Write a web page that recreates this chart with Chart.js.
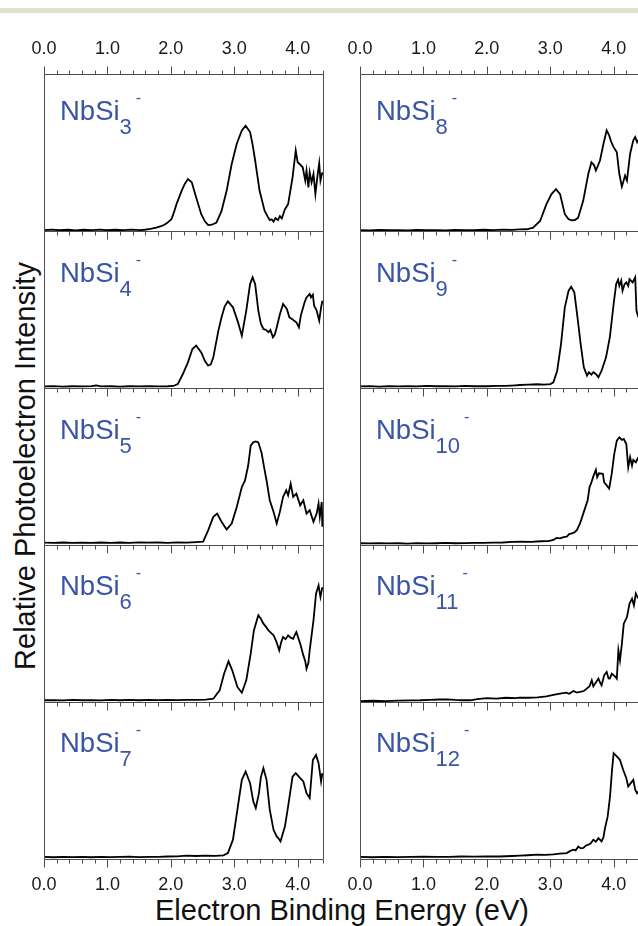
<!DOCTYPE html>
<html>
<head>
<meta charset="utf-8">
<script src="https://cdn.jsdelivr.net/npm/chart.js@4.4.0/dist/chart.umd.min.js"></script>
<style>
html, body { margin:0; padding:0; background:#fff; overflow:hidden; }
#page { position:relative; width:638px; height:926px; overflow:hidden; font-family:'Liberation Sans', Arial, sans-serif; }
#band { position:absolute; left:0; top:8px; width:638px; height:5px; background:#e2e0d0; }
canvas { position:absolute; }
.lbl { position:absolute; font-size:27.5px; line-height:1; color:#3a55a6; white-space:nowrap; }
.lbl .sb { font-size:22px; position:relative; top:14px; }
.lbl .sp { font-size:16px; position:relative; top:-17px; margin-left:4px; }
#xtitle { position:absolute; left:0; top:895.5px; width:684px; text-align:center; font-size:29px; line-height:1; color:#111; white-space:nowrap; }
#ytitle { position:absolute; left:-275px; top:452px; width:600px; text-align:center; font-size:29px; line-height:28px; color:#111; white-space:nowrap; transform:rotate(-90deg); }
</style>
</head>
<body>
<div id="page">
  <div id="band"></div>
  <div id="ytitle">Relative Photoelectron Intensity</div>
  <div id="xtitle">Electron Binding Energy (eV)</div>
</div>
<script>
// energies (eV) and relative intensity
var nbsi3 = [[0.00,0.006],[0.12,0.009],[0.25,0.005],[0.38,0.008],[0.50,0.004],[0.62,0.008],[0.75,0.006],[0.88,0.009],[1.00,0.005],[1.12,0.008],[1.25,0.006],[1.38,0.009],[1.50,0.006],[1.59,0.008],
  [1.68,0.013],[1.77,0.021],[1.86,0.032],[1.93,0.047],[2.01,0.075],[2.05,0.12],[2.09,0.171],[2.17,0.256],[2.22,0.30],[2.27,0.331],[2.33,0.31],[2.40,0.213],[2.48,0.107],[2.54,0.06],[2.59,0.038],[2.65,0.04],[2.72,0.053],[2.80,0.128],[2.88,0.256],[2.96,0.427],[3.04,0.556],[3.12,0.641],[3.18,0.671],[3.25,0.63],[3.29,0.55],[3.33,0.449],[3.40,0.256],[3.48,0.128],[3.53,0.09],[3.56,0.07],[3.59,0.075],[3.62,0.06],[3.65,0.082],[3.69,0.07],[3.72,0.095],[3.75,0.08],[3.80,0.139],[3.85,0.171],[3.92,0.342],[3.97,0.513],[4.00,0.438],[4.03,0.427],[4.08,0.406],[4.12,0.321],[4.14,0.385],[4.17,0.278],[4.19,0.374],[4.22,0.31],[4.25,0.363],[4.28,0.235],[4.31,0.342],[4.34,0.432],[4.36,0.321],[4.39,0.374]];
var nbsi4 = [[0.00,0.01],[0.15,0.012],[0.30,0.009],[0.45,0.011],[0.60,0.01],[0.75,0.012],[0.82,0.016],[0.90,0.01],[1.05,0.011],[1.20,0.009],[1.35,0.011],[1.50,0.01],[1.65,0.012],[1.80,0.01],[1.95,0.011],[2.04,0.013],[2.11,0.025],[2.19,0.089],[2.27,0.163],[2.34,0.248],[2.40,0.27],[2.48,0.227],[2.54,0.17],[2.59,0.142],[2.63,0.15],[2.67,0.195],[2.75,0.365],[2.80,0.45],[2.85,0.52],[2.90,0.552],[2.98,0.514],[3.06,0.418],[3.12,0.333],[3.19,0.493],[3.25,0.662],[3.29,0.705],[3.33,0.662],[3.38,0.493],[3.42,0.41],[3.46,0.376],[3.50,0.37],[3.54,0.355],[3.57,0.37],[3.61,0.323],[3.64,0.34],[3.67,0.386],[3.72,0.47],[3.77,0.535],[3.83,0.503],[3.87,0.45],[3.91,0.44],[3.94,0.43],[3.98,0.418],[4.02,0.386],[4.05,0.461],[4.11,0.546],[4.14,0.577],[4.19,0.599],[4.21,0.577],[4.24,0.594],[4.26,0.524],[4.30,0.493],[4.34,0.429],[4.37,0.514],[4.39,0.556]];
var nbsi5 = [[0.00,0.015],[0.15,0.013],[0.30,0.016],[0.45,0.014],[0.60,0.015],[0.75,0.013],[0.90,0.016],[1.05,0.014],[1.20,0.016],[1.35,0.014],[1.50,0.017],[1.65,0.015],[1.80,0.016],[1.95,0.014],[2.10,0.017],[2.25,0.015],[2.40,0.018],[2.51,0.021],[2.59,0.095],[2.67,0.179],[2.73,0.2],[2.80,0.148],[2.88,0.099],[2.96,0.137],[3.04,0.242],[3.12,0.369],[3.17,0.411],[3.22,0.506],[3.26,0.633],[3.30,0.654],[3.34,0.66],[3.38,0.654],[3.43,0.589],[3.48,0.475],[3.51,0.411],[3.56,0.285],[3.62,0.211],[3.67,0.137],[3.72,0.211],[3.77,0.306],[3.82,0.348],[3.85,0.316],[3.89,0.39],[3.93,0.306],[3.98,0.327],[4.04,0.253],[4.09,0.285],[4.14,0.2],[4.19,0.222],[4.25,0.148],[4.30,0.2],[4.33,0.264],[4.35,0.179],[4.38,0.274],[4.39,0.116]];
var nbsi6 = [[0.00,0.011],[0.15,0.012],[0.30,0.010],[0.45,0.013],[0.60,0.011],[0.75,0.012],[0.90,0.010],[1.05,0.013],[1.20,0.011],[1.35,0.014],[1.50,0.011],[1.65,0.013],[1.80,0.012],[1.95,0.014],[2.10,0.012],[2.25,0.014],[2.40,0.013],[2.55,0.015],[2.67,0.021],[2.77,0.074],[2.84,0.18],[2.91,0.259],[2.97,0.2],[3.05,0.096],[3.12,0.059],[3.19,0.138],[3.26,0.308],[3.31,0.456],[3.38,0.552],[3.42,0.53],[3.46,0.499],[3.50,0.48],[3.54,0.456],[3.58,0.44],[3.62,0.425],[3.66,0.39],[3.71,0.329],[3.74,0.38],[3.77,0.414],[3.81,0.40],[3.85,0.425],[3.89,0.41],[3.93,0.403],[3.96,0.43],[3.98,0.446],[4.04,0.372],[4.09,0.297],[4.12,0.26],[4.14,0.212],[4.17,0.25],[4.19,0.329],[4.25,0.52],[4.29,0.69],[4.33,0.743],[4.36,0.669],[4.39,0.732]];
var nbsi7 = [[0.00,0.013],[0.15,0.011],[0.30,0.014],[0.45,0.012],[0.60,0.013],[0.75,0.011],[0.90,0.014],[1.05,0.012],[1.20,0.013],[1.35,0.015],[1.50,0.012],[1.65,0.014],[1.80,0.013],[1.95,0.016],[2.10,0.017],[2.25,0.022],[2.40,0.019],[2.55,0.021],[2.70,0.02],[2.83,0.023],[2.90,0.038],[2.98,0.123],[3.05,0.314],[3.12,0.504],[3.18,0.557],[3.25,0.483],[3.30,0.367],[3.34,0.324],[3.39,0.419],[3.42,0.52],[3.46,0.578],[3.51,0.504],[3.56,0.314],[3.62,0.186],[3.67,0.144],[3.70,0.13],[3.73,0.112],[3.80,0.208],[3.85,0.335],[3.92,0.525],[3.97,0.547],[4.04,0.515],[4.09,0.494],[4.14,0.419],[4.19,0.388],[4.24,0.631],[4.29,0.663],[4.33,0.61],[4.37,0.494],[4.39,0.547]];
var nbsi8 = [[0.00,0.006],[0.15,0.004],[0.30,0.007],[0.45,0.005],[0.60,0.006],[0.75,0.004],[0.90,0.007],[1.05,0.005],[1.20,0.006],[1.35,0.004],[1.50,0.007],[1.65,0.005],[1.80,0.006],[1.95,0.008],[2.10,0.006],[2.25,0.009],[2.40,0.007],[2.52,0.01],[2.63,0.011],[2.73,0.021],[2.84,0.064],[2.94,0.171],[3.02,0.235],[3.09,0.267],[3.155,0.235],[3.23,0.107],[3.29,0.075],[3.34,0.068],[3.39,0.07],[3.44,0.085],[3.52,0.192],[3.60,0.363],[3.65,0.438],[3.69,0.42],[3.72,0.385],[3.785,0.449],[3.84,0.556],[3.89,0.641],[3.93,0.609],[3.96,0.57],[4.00,0.534],[4.05,0.502],[4.09,0.363],[4.13,0.282],[4.18,0.353],[4.21,0.321],[4.26,0.492],[4.31,0.577],[4.34,0.598],[4.37,0.566],[4.39,0.58]];
var nbsi9 = [[0.00,0.01],[0.15,0.012],[0.30,0.009],[0.45,0.011],[0.60,0.01],[0.75,0.012],[0.90,0.01],[1.05,0.013],[1.20,0.011],[1.35,0.012],[1.50,0.01],[1.65,0.013],[1.80,0.011],[2.00,0.011],[2.15,0.014],[2.30,0.013],[2.45,0.017],[2.52,0.019],[2.65,0.021],[2.80,0.024],[2.90,0.022],[3.00,0.025],[3.05,0.036],[3.11,0.11],[3.17,0.28],[3.23,0.514],[3.29,0.62],[3.33,0.645],[3.38,0.609],[3.43,0.45],[3.48,0.28],[3.53,0.132],[3.58,0.079],[3.61,0.1],[3.65,0.085],[3.68,0.1],[3.72,0.09],[3.76,0.068],[3.81,0.11],[3.88,0.195],[3.94,0.323],[4.00,0.535],[4.04,0.662],[4.07,0.69],[4.09,0.65],[4.12,0.684],[4.14,0.62],[4.17,0.66],[4.20,0.673],[4.23,0.65],[4.25,0.694],[4.30,0.673],[4.34,0.705],[4.36,0.493],[4.39,0.45]];
var nbsi10 = [[0.00,0.011],[0.15,0.01],[0.30,0.012],[0.45,0.01],[0.60,0.011],[0.75,0.009],[0.90,0.012],[1.05,0.01],[1.20,0.011],[1.35,0.013],[1.50,0.011],[1.65,0.012],[1.80,0.014],[1.95,0.013],[2.10,0.015],[2.25,0.016],[2.40,0.02],[2.55,0.022],[2.70,0.02],[2.85,0.024],[2.97,0.025],[3.05,0.032],[3.10,0.045],[3.155,0.042],[3.21,0.05],[3.26,0.053],[3.30,0.07],[3.34,0.074],[3.38,0.08],[3.42,0.095],[3.47,0.137],[3.53,0.211],[3.59,0.285],[3.62,0.369],[3.644,0.392],[3.68,0.437],[3.72,0.479],[3.74,0.432],[3.77,0.457],[3.83,0.454],[3.85,0.4],[3.89,0.38],[3.93,0.359],[3.97,0.454],[4.01,0.58],[4.05,0.665],[4.09,0.686],[4.13,0.669],[4.16,0.675],[4.20,0.643],[4.23,0.495],[4.26,0.559],[4.29,0.506],[4.31,0.542],[4.35,0.527],[4.39,0.559]];
var nbsi11 = [[0.00,0.006],[0.20,0.008],[0.40,0.006],[0.60,0.009],[0.80,0.01],[0.95,0.011],[1.10,0.014],[1.25,0.016],[1.37,0.017],[1.50,0.013],[1.60,0.011],[1.74,0.011],[1.85,0.018],[2.00,0.025],[2.15,0.022],[2.30,0.027],[2.45,0.025],[2.52,0.028],[2.65,0.027],[2.80,0.03],[2.94,0.036],[3.05,0.045],[3.155,0.053],[3.25,0.06],[3.30,0.052],[3.365,0.07],[3.42,0.06],[3.47,0.064],[3.53,0.07],[3.576,0.085],[3.62,0.1],[3.655,0.138],[3.68,0.1],[3.707,0.117],[3.73,0.13],[3.76,0.149],[3.79,0.12],[3.81,0.106],[3.85,0.17],[3.89,0.191],[3.92,0.15],[3.94,0.149],[3.97,0.18],[4.00,0.17],[4.03,0.16],[4.05,0.149],[4.075,0.329],[4.10,0.265],[4.13,0.372],[4.16,0.499],[4.21,0.541],[4.25,0.626],[4.29,0.658],[4.32,0.616],[4.35,0.69],[4.39,0.658]];
var nbsi12 = [[0.00,0.013],[0.20,0.011],[0.40,0.014],[0.60,0.012],[0.80,0.013],[1.00,0.015],[1.20,0.013],[1.40,0.014],[1.60,0.016],[1.80,0.015],[2.00,0.017],[2.20,0.016],[2.40,0.019],[2.52,0.021],[2.65,0.024],[2.79,0.028],[2.92,0.026],[3.05,0.03],[3.15,0.034],[3.26,0.038],[3.31,0.05],[3.365,0.059],[3.40,0.055],[3.444,0.08],[3.48,0.068],[3.523,0.07],[3.56,0.085],[3.60,0.091],[3.64,0.1],[3.68,0.123],[3.72,0.11],[3.76,0.133],[3.81,0.112],[3.84,0.14],[3.864,0.197],[3.906,0.271],[3.943,0.398],[3.975,0.568],[4.00,0.674],[4.05,0.653],[4.10,0.631],[4.15,0.568],[4.20,0.515],[4.23,0.462],[4.27,0.483],[4.31,0.504],[4.34,0.441],[4.37,0.419],[4.39,0.43]];

var clusterSizes = ['3','4','5','6','7','8','9','10','11','12'];
var spectra = [nbsi3, nbsi4, nbsi5, nbsi6, nbsi7, nbsi8, nbsi9, nbsi10, nbsi11, nbsi12];
var energyMax = 4.4;
var minorStep = 0.2;

// layout
var colLeft = [44, 360];
var plotW = 279, plotH = 157, firstTop = 74;
var side = 40;
var lblOffset = [46.5, 51.5, 51, 50, 50];
var axisColor = '#4d4d4d';
var fontFam = "'Liberation Sans', Arial, sans-serif";

var framePlugin = {
  id: 'frame',
  afterDraw: function(chart, args, opts) {
    var ctx = chart.ctx, a = chart.chartArea, x = chart.scales.x;
    ctx.save();
    ctx.strokeStyle = axisColor;
    ctx.lineWidth = 1;
    var l = Math.round(a.left) + 0.5, r = Math.round(a.right) + 0.5;
    var t = Math.round(a.top) + 0.5, b = Math.round(a.bottom) + 0.5;
    ctx.beginPath();
    ctx.moveTo(l, t); ctx.lineTo(r, t); ctx.lineTo(r, b); ctx.lineTo(l, b); ctx.closePath();
    ctx.stroke();
    ctx.beginPath();
    for (var k = 0; k * minorStep <= energyMax + 1e-6; k++) {
      var px = Math.round(x.getPixelForValue(k * minorStep)) + 0.5;
      var len = (k % 5 === 0) ? 8 : 4;
      ctx.moveTo(px, b); ctx.lineTo(px, b + len);
      if (opts.top) { ctx.moveTo(px, t); ctx.lineTo(px, t - len); }
    }
    ctx.stroke();
    ctx.restore();
  }
};

var page = document.getElementById('page');

spectra.forEach(function(spec, i) {
  var col = i < 5 ? 0 : 1;
  var row = i % 5;
  var rowTop = firstTop + row * plotH;
  var topExtra = row === 0 ? 60 : 0;
  var bottomExtra = row === 4 ? 40 : 12;

  var cv = document.createElement('canvas');
  var w = plotW + 2 * side, h = plotH + topExtra + bottomExtra;
  cv.width = w; cv.height = h;
  cv.style.width = w + 'px'; cv.style.height = h + 'px';
  cv.style.left = (colLeft[col] - side) + 'px';
  cv.style.top = (rowTop - topExtra) + 'px';
  page.appendChild(cv);

  var tickFont = { family: fontFam, size: 18 };
  var scales = {
    x: {
      type: 'linear', min: 0, max: energyMax, position: 'bottom',
      display: row === 4,
      afterFit: function(s) { if (row === 4) s.height = 40; },
      grid: { display: false, drawTicks: false },
      border: { display: false },
      ticks: { stepSize: 1, includeBounds: false, padding: 15, font: tickFont, color: '#1a1a1a',
               maxRotation: 0, autoSkip: false, callback: function(v) { return v.toFixed(1); } }
    },
    y: { display: false, min: 0, max: 1 }
  };
  if (row === 0) {
    scales.xt = {
      type: 'linear', axis: 'x', min: 0, max: energyMax, position: 'top',
      afterFit: function(s) { s.height = 60; },
      grid: { display: false, drawTicks: false },
      border: { display: false },
      ticks: { stepSize: 1, includeBounds: false, padding: 14, font: tickFont, color: '#1a1a1a',
               maxRotation: 0, autoSkip: false, callback: function(v) { return v.toFixed(1); } }
    };
  }

  new Chart(cv, {
    type: 'line',
    data: {
      datasets: [{
        data: spec.map(function(p) { return { x: p[0], y: p[1] }; }),
        borderColor: '#000',
        borderWidth: 1.8,
        pointRadius: 0,
        tension: 0,
        fill: false
      }]
    },
    options: {
      responsive: false,
      animation: false,
      devicePixelRatio: 1,
      events: [],
      layout: { padding: { left: side, right: side, top: 0, bottom: row === 4 ? 0 : bottomExtra } },
      plugins: { legend: { display: false }, tooltip: { enabled: false }, frame: { top: row === 0 } },
      scales: scales
    },
    plugins: [framePlugin]
  });

  var lbl = document.createElement('div');
  lbl.className = 'lbl';
  lbl.style.left = (colLeft[col] + 16) + 'px';
  lbl.style.top = (rowTop + lblOffset[row] - 23.3) + 'px';
  lbl.innerHTML = 'NbSi<span class="sb">' + clusterSizes[i] + '</span><span class="sp">-</span>';
  page.appendChild(lbl);
});
</script>
</body>
</html>
